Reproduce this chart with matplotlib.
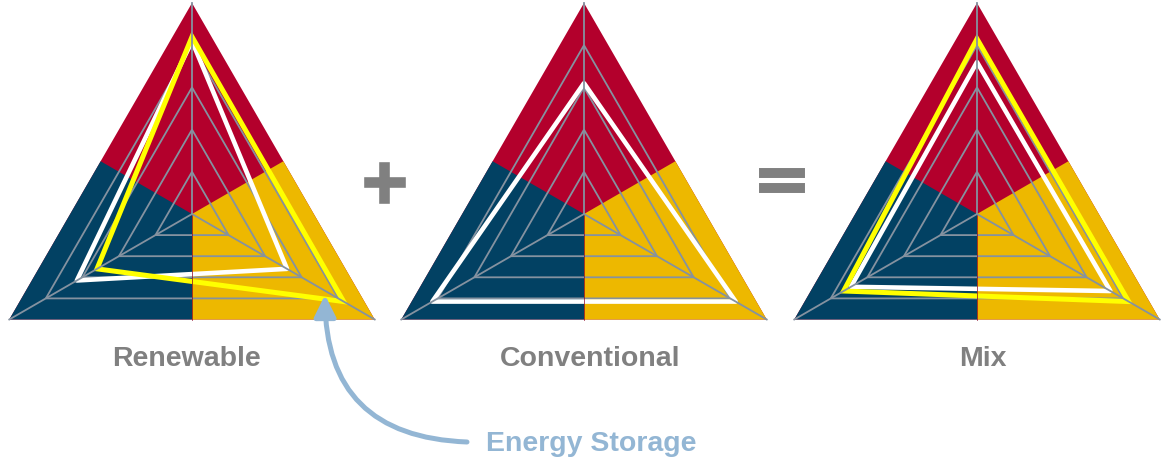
import numpy as np
import matplotlib.pyplot as plt
import matplotlib.patheffects as pe
from matplotlib.patches import Polygon, FancyArrowPatch

# radar values on the three spokes (top, lower-left, lower-right), scale 0..1
renewable = [0.82, 0.63, 0.52]
renewable_storage = [0.84, 0.52, 0.83]
conventional = [0.62, 0.83, 0.83]
mix = [0.72, 0.69, 0.73]
mix_storage = [0.83, 0.73, 0.83]
panel_names = ["Renewable", "Conventional", "Mix"]
grid_levels = [0.2, 0.4, 0.6, 0.8]

RED = "#b3002c"
BLUE = "#024163"
GOLD = "#edb800"
GRID = "#8592a0"
GREY = "#808080"
STORAGE = "#93b6d4"

# layout (pixel units, y pointing down)
W, H = 1161, 464
centers = [192, 584, 977]
cy = 215
R = 211
angles = np.radians([90, 210, 330])

def to_xy(cx, vals):
    vals = np.asarray(vals, dtype=float)
    return np.column_stack([cx + R * vals * np.cos(angles),
                            cy - R * vals * np.sin(angles)])

fig = plt.figure(figsize=(W / 100, H / 100), dpi=100)
ax = fig.add_axes([0, 0, 1, 1])
ax.set_xlim(0, W)
ax.set_ylim(H, 0)
ax.axis("off")

def draw_panel(cx, white_vals, yellow_vals=None):
    top, bl, br = to_xy(cx, [1, 1, 1])
    c = np.array([cx, cy])
    mid_l = (top + bl) / 2
    mid_r = (top + br) / 2
    mid_b = (bl + br) / 2
    # coloured sectors
    ax.add_patch(Polygon([top, bl, br], closed=True, fc=RED, ec="none"))
    ax.add_patch(Polygon([c, mid_l, bl, mid_b], closed=True, fc=BLUE, ec="none"))
    ax.add_patch(Polygon([c, mid_b, br, mid_r], closed=True, fc=GOLD, ec="none"))
    ax.plot([c[0], mid_b[0]], [c[1], mid_b[1]], color="#8a0022", lw=0.5)
    # web
    for lev in grid_levels:
        ax.add_patch(Polygon(to_xy(cx, [lev] * 3), closed=True, fill=False,
                             ec=GRID, lw=1.3))
    for v in (top, bl, br):
        ax.plot([c[0], v[0]], [c[1], v[1]], color=GRID, lw=1.3)
    # series
    ax.add_patch(Polygon(to_xy(cx, white_vals), closed=True, fill=False,
                         ec="white", lw=3.3, joinstyle="round"))
    if yellow_vals is not None:
        ax.add_patch(Polygon(to_xy(cx, yellow_vals), closed=True, fill=False,
                             ec="#ffff00", lw=3.6, joinstyle="miter"))

draw_panel(centers[0], renewable, renewable_storage)
draw_panel(centers[1], conventional)
draw_panel(centers[2], mix, mix_storage)

label_x = [187, 590, 983]
for x, name in zip(label_x, panel_names):
    ax.text(x, 359, name, ha="center", va="center", fontsize=20.5,
            fontweight="bold", color=GREY, family="Liberation Sans")

# operators between the panels
ax.text(385, 186, "+", ha="center", va="center", fontsize=43,
        fontweight="bold", color=GREY, family="DejaVu Sans",
        path_effects=[pe.withStroke(linewidth=2.6, foreground=GREY,
                                    joinstyle="miter")])
ax.text(782, 184, "=", ha="center", va="center", fontsize=50,
        fontweight="bold", color=GREY, family="DejaVu Sans",
        path_effects=[pe.withStroke(linewidth=1.4, foreground=GREY,
                                    joinstyle="miter")])

# storage annotation
ax.text(591, 444, "Energy Storage", ha="center", va="center", fontsize=20.5,
        fontweight="bold", color=STORAGE, family="Liberation Sans")
arrow = FancyArrowPatch((467, 443), (325, 296),
                        connectionstyle="arc3,rad=-0.48",
                        arrowstyle="-|>,head_length=1.0,head_width=0.5",
                        mutation_scale=13, lw=3.6, color=STORAGE,
                        shrinkA=0, shrinkB=0)
ax.add_patch(arrow)

fig.savefig("out.png", dpi=100, facecolor="white")
